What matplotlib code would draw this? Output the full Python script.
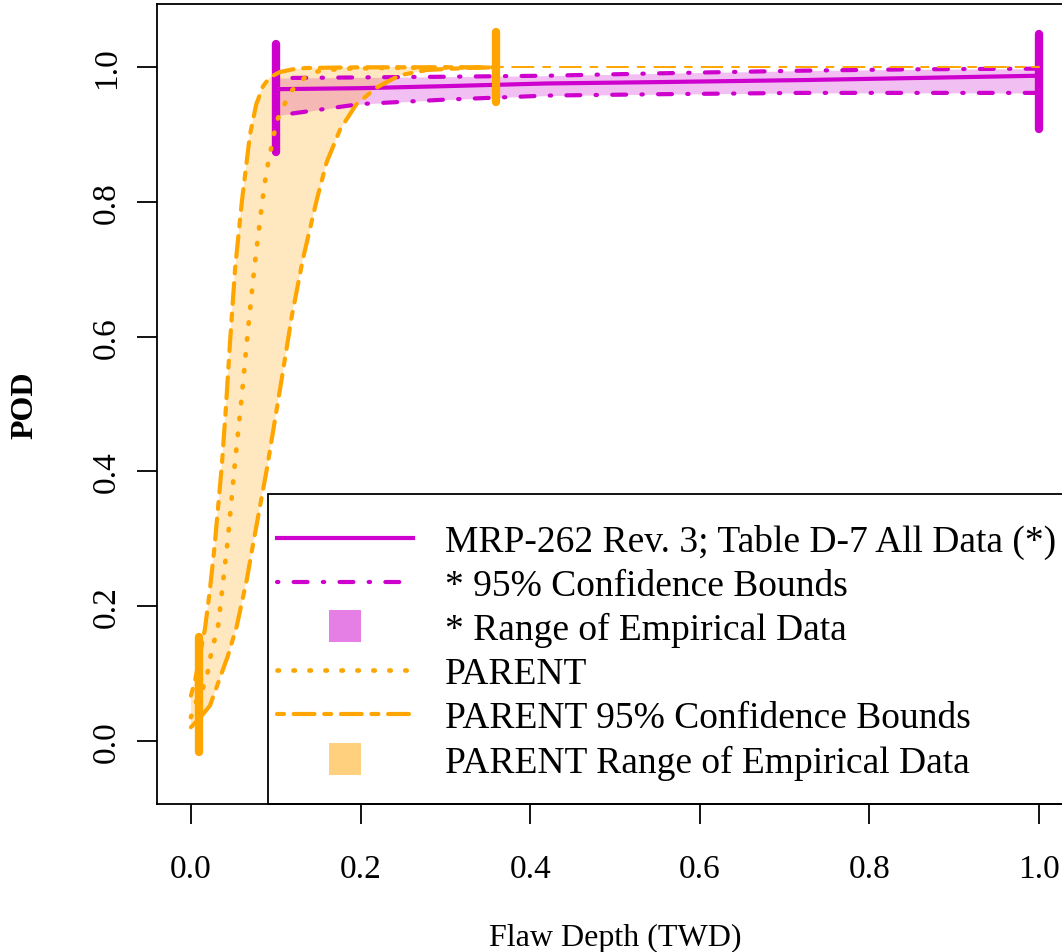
import matplotlib
matplotlib.use('Agg')
import matplotlib.pyplot as plt
from matplotlib.lines import Line2D
from matplotlib.patches import Rectangle
import numpy as np

plt.rcParams['font.family'] = ['Liberation Serif', 'DejaVu Serif']
plt.rcParams['lines.scale_dashes'] = False

MAGENTA = '#CD00CD'
ORANGE = '#FFA500'

# MRP-262 Rev. 3; Table D-7 All Data - POD curve and 95% bounds
mrp_x = [0.1, 0.2, 0.3, 0.42, 0.55, 0.72, 0.85, 1.0]
mrp_pod = [0.9675, 0.969, 0.972, 0.976, 0.978, 0.981, 0.984, 0.9875]
mrp_hi = [0.984, 0.985, 0.986, 0.9875, 0.991, 0.995, 0.997, 0.998]
mrp_lo = [0.928, 0.9455, 0.952, 0.958, 0.960, 0.962, 0.962, 0.962]

# PARENT POD curve
parent_x = [0.0, 0.005, 0.014, 0.02, 0.024, 0.032, 0.0436, 0.052, 0.060, 0.067, 0.075,
            0.084, 0.089, 0.101, 0.117, 0.136, 0.152, 0.18, 0.25, 0.36, 0.5, 0.75, 1.0]
parent_pod = [0.035, 0.055, 0.077, 0.103, 0.131, 0.170, 0.30, 0.414, 0.512, 0.607, 0.705,
              0.80, 0.845, 0.92, 0.963, 0.987, 0.995, 0.998, 0.9995, 1.0, 1.0, 1.0, 1.0]

# PARENT 95% confidence bounds
parent_hi_x = [0.0, 0.005, 0.0165, 0.022, 0.028, 0.0365, 0.041, 0.046, 0.052, 0.060, 0.0696,
               0.077, 0.085, 0.093, 0.105, 0.12, 0.136, 0.2, 0.36, 0.5, 0.75, 1.0]
parent_hi = [0.067, 0.09, 0.166, 0.22, 0.29, 0.41, 0.49, 0.59, 0.70, 0.80, 0.90,
             0.945, 0.972, 0.985, 0.993, 0.997, 0.999, 1.0, 1.0, 1.0, 1.0, 1.0]
parent_lo_x = [0.0, 0.01, 0.0224, 0.0436, 0.054, 0.066, 0.073, 0.0896, 0.107, 0.119, 0.132,
               0.1485, 0.16, 0.176, 0.195, 0.219, 0.246, 0.278, 0.325, 0.36, 0.5, 0.75, 1.0]
parent_lo = [0.02, 0.033, 0.052, 0.126, 0.17, 0.24, 0.29, 0.404, 0.537, 0.631, 0.715,
             0.804, 0.859, 0.908, 0.945, 0.97, 0.988, 0.996, 0.999, 1.0, 1.0, 1.0, 1.0]

# range of empirical data (flaw depth limits) and marker extents
mrp_range = [0.1, 1.0]
mrp_range_lo = [0.874, 0.908]
mrp_range_hi = [1.035, 1.049]
parent_range = [0.01, 0.36]
parent_range_lo = [-0.017, 0.948]
parent_range_hi = [0.154, 1.052]

x_ticks = [0.0, 0.2, 0.4, 0.6, 0.8, 1.0]
y_ticks = [0.0, 0.2, 0.4, 0.6, 0.8, 1.0]

legend_labels = ['MRP-262 Rev. 3; Table D-7 All Data (*)',
                 '* 95% Confidence Bounds',
                 '* Range of Empirical Data',
                 'PARENT',
                 'PARENT 95% Confidence Bounds',
                 'PARENT Range of Empirical Data']

dotdash = (0, (1, 11, 10, 11))
twodash = (0, (5, 7, 15, 7))
dotted = (0, (1, 10.5))

fig = plt.figure(figsize=(10.62, 9.53), dpi=100)
ax = fig.add_axes([157 / 1062, 1 - 805 / 953, 916 / 1062, 800 / 953])
ax.set_xlim(-0.04, 1.04)
ax.set_ylim(-0.094, 1.094)

# MRP-262 curves
ax.fill_between(mrp_x, mrp_lo, mrp_hi, color=MAGENTA, alpha=0.25, lw=0)
ax.plot(mrp_x, mrp_pod, color=MAGENTA, lw=3, solid_capstyle='round')
ax.plot(mrp_x, mrp_hi, color=MAGENTA, lw=3, ls=dotdash, dash_capstyle='round')
ax.plot(mrp_x, mrp_lo, color=MAGENTA, lw=3, ls=dotdash, dash_capstyle='round')
vl = ax.vlines(mrp_range, mrp_range_lo, mrp_range_hi, color=MAGENTA, lw=6)
vl.set_capstyle('round')

# PARENT curves: shaded over the range of empirical data, thin beyond it
hx = np.array(parent_hi_x)
hy = np.array(parent_hi)
lx = np.array(parent_lo_x)
ly = np.array(parent_lo)
px = np.array(parent_x)
py = np.array(parent_pod)
xmax = parent_range[1]
poly_x = np.concatenate([hx[hx <= xmax], lx[lx <= xmax][::-1]])
poly_y = np.concatenate([hy[hx <= xmax], ly[lx <= xmax][::-1]])
ax.fill(poly_x, poly_y, color=ORANGE, alpha=0.25, lw=0)

for cx, cy, style, w in [(px, py, dotted, 3.4), (hx, hy, twodash, 3), (lx, ly, twodash, 3)]:
    m = cx <= xmax
    ax.plot(cx[m], cy[m], color=ORANGE, lw=w, ls=style, dash_capstyle='round')
    m2 = cx >= xmax
    ax.plot(cx[m2], cy[m2], color=ORANGE, lw=1.2, ls=style, dash_capstyle='round')

vl = ax.vlines(parent_range, parent_range_lo, parent_range_hi, color=ORANGE, lw=6)
vl.set_capstyle('round')

# axes styling
for s in ax.spines.values():
    s.set_linewidth(1.3)
ax.set_xticks(x_ticks)
ax.set_xticklabels([f'{t:.1f}' for t in x_ticks])
ax.set_yticks(y_ticks)
ax.set_yticklabels([f'{t:.1f}' for t in y_ticks], rotation=90, va='center')
ax.tick_params(axis='both', direction='out', length=14.4, width=1.3, labelsize=24)
ax.tick_params(axis='x', pad=21)
ax.tick_params(axis='y', pad=11)

ax.set_xlabel('Flaw Depth (TWD)', fontsize=23)
ax.xaxis.set_label_coords(0.5, (805 - 938) / 800)
ax.xaxis.label.set_va('center')
ax.set_ylabel('POD', fontsize=23, fontweight='bold')
ax.yaxis.set_label_coords((25 - 157) / 916, 0.5)
ax.yaxis.label.set_va('center')

# legend
handles = [
    Line2D([], [], color=MAGENTA, lw=3),
    Line2D([], [], color=MAGENTA, lw=3, ls=dotdash, dash_capstyle='round'),
    Line2D([], [], color=MAGENTA, alpha=0.5, marker='s', ms=23, ls='None', mew=0),
    Line2D([], [], color=ORANGE, lw=3.4, ls=dotted, dash_capstyle='round'),
    Line2D([], [], color=ORANGE, lw=3, ls=twodash, dash_capstyle='round'),
    Line2D([], [], color=ORANGE, alpha=0.5, marker='s', ms=23, ls='None', mew=0),
]
leg_size = 27
fs = leg_size * 100 / 72
bp = 0.65
leg = ax.legend(handles, legend_labels, loc='lower left',
                bbox_to_anchor=((277 - bp * fs - 157) / 916, 0),
                borderaxespad=0, frameon=False, fontsize=leg_size,
                handlelength=136 / fs, handletextpad=32 / fs,
                borderpad=bp, labelspacing=0.25)
ax.add_patch(Rectangle(((268 - 157) / 916, 0), 1, (805 - 495) / 800,
                       transform=ax.transAxes, fill=False, lw=1.3,
                       edgecolor='black', zorder=4, clip_on=False))

fig.savefig('out.png', dpi=100)
